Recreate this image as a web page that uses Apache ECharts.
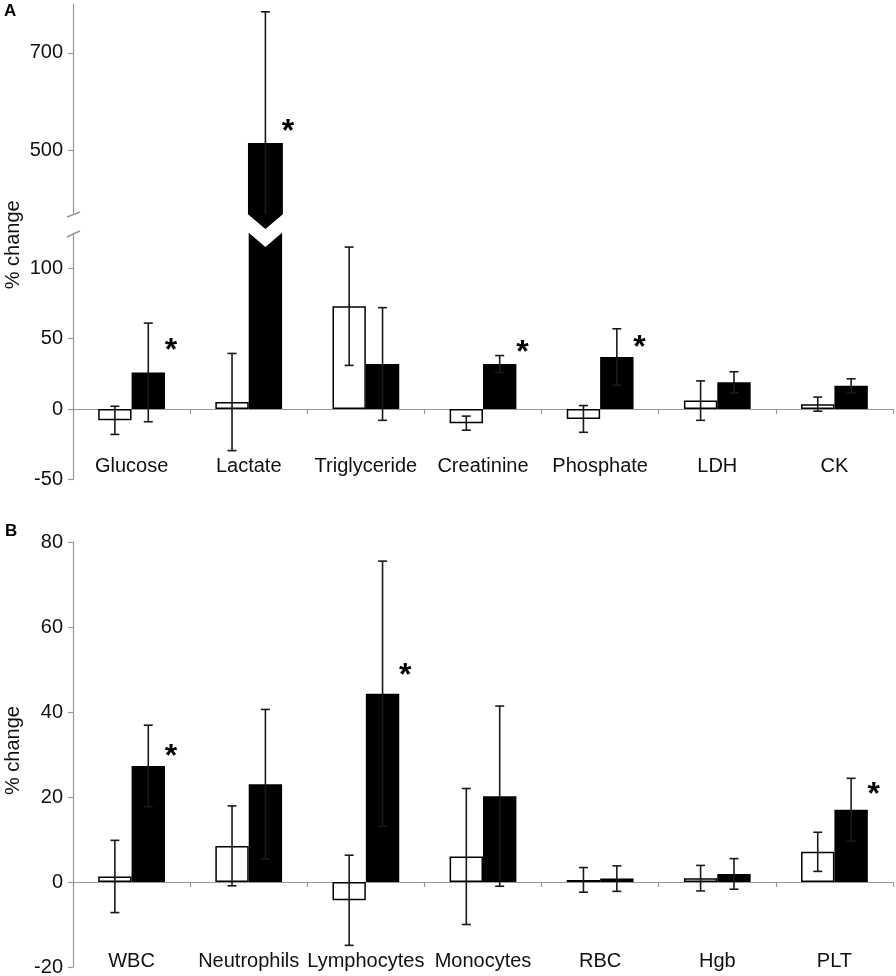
<!DOCTYPE html>
<html>
<head>
<meta charset="utf-8">
<script src="https://cdn.jsdelivr.net/npm/echarts@6/dist/echarts.min.js"></script>
<style>
html, body { margin: 0; background: #fff; }
#chart { width: 896px; height: 976px; }
</style>
</head>
<body>
<div id="chart"></div>
<script>
// panel A: blood chemistry
var catsA = ["Glucose", "Lactate", "Triglyceride", "Creatinine", "Phosphate", "LDH", "CK"];
var controlA = [-8, 5, 73, -10, -7, 6, 3.5];
var controlErrA = [10, 34.5, 42, 5, 9.5, 14, 5];
var exerciseA = [26, 514, 32, 32, 37, 19, 16.5];
var exerciseErrA = [35, 270, 40, 6, 20, 7.5, 5];
var starA = [46, 552, null, 45, 48, null, null];

// panel B: blood counts
var catsB = ["WBC", "Neutrophils", "Lymphocytes", "Monocytes", "RBC", "Hgb", "PLT"];
var controlB = [1.3, 8.5, -4.3, 6, 0.5, 0.9, 7.1];
var controlErrB = [8.5, 9.4, 10.6, 16, 2.9, 3, 4.6];
var exerciseB = [27.3, 23, 44.3, 20.2, 0.8, 1.9, 17];
var exerciseErrB = [9.6, 17.6, 31.2, 21.2, 3, 3.6, 7.4];
var starB = [31, null, 50, null, null, null, 22];

var ticksAUpper = [500, 700];
var ticksALower = [-50, 0, 50, 100];
var ticksB = [-20, 0, 20, 40, 60, 80];

var rangeAUpper = [370, 800];
var rangeALower = [-50, 125];
var rangeB = [-20, 80];

var FONT = '"Liberation Sans", Arial, sans-serif';
var AXIS_GRAY = "#999";
var GAP = 0.43;
var GRID_LEFT = 73;

function barW(api) {
    return api.size([1, 0])[0] * (1 - GAP) / 2;
}

function errorSeries(grid, vals, errs, side, range) {
    return {
        type: "custom",
        xAxisIndex: grid,
        yAxisIndex: grid,
        z: 5,
        silent: true,
        data: vals.map(function (v, i) { return [i, v, errs[i]]; }),
        renderItem: function (params, api) {
            var i = api.value(0), v = api.value(1), e = api.value(2);
            var top = Math.min(v + e, range[1]);
            var bot = Math.max(v - e, range[0]);
            if (top <= bot) return;
            var w = barW(api);
            var cx = api.coord([i, 0])[0] + side * w / 2;
            var yt = api.coord([i, top])[1];
            var yb = api.coord([i, bot])[1];
            var st = { stroke: "#1a1a1a", lineWidth: 1.6 };
            var kids = [{ type: "line", shape: { x1: cx, y1: yt, x2: cx, y2: yb }, style: st }];
            if (v + e <= range[1]) {
                kids.push({ type: "line", shape: { x1: cx - 4.5, y1: yt, x2: cx + 4.5, y2: yt }, style: st });
            }
            if (v - e >= range[0]) {
                kids.push({ type: "line", shape: { x1: cx - 4.5, y1: yb, x2: cx + 4.5, y2: yb }, style: st });
            }
            return { type: "group", children: kids };
        }
    };
}

function starSeries(grid, stars, range) {
    var data = [];
    stars.forEach(function (s, i) {
        if (s != null && s >= range[0] && s <= range[1]) data.push([i, s]);
    });
    return {
        type: "custom",
        xAxisIndex: grid,
        yAxisIndex: grid,
        z: 6,
        silent: true,
        data: data,
        renderItem: function (params, api) {
            var p = api.coord([api.value(0), api.value(1)]);
            var w = barW(api);
            return {
                type: "text",
                x: p[0] + w + 6,
                y: p[1] + 7,
                style: {
                    text: "*",
                    font: "bold 32px " + FONT,
                    fill: "#000",
                    align: "center",
                    verticalAlign: "middle"
                }
            };
        }
    };
}

function barPair(grid, ctrl, exer) {
    var common = {
        type: "bar",
        xAxisIndex: grid,
        yAxisIndex: grid,
        barGap: "0%",
        barCategoryGap: (GAP * 100) + "%",
        clip: true,
        silent: true
    };
    return [
        Object.assign({ data: ctrl, itemStyle: { color: "#fff", borderColor: "#000", borderWidth: 1.5 } }, common),
        Object.assign({ data: exer, itemStyle: { color: "#000", borderColor: "#000", borderWidth: 1.5 } }, common)
    ];
}

function yAxisCfg(grid, range, ticks) {
    return {
        type: "value",
        gridIndex: grid,
        min: range[0],
        max: range[1],
        axisLine: { show: true, lineStyle: { color: AXIS_GRAY, width: 1.2 } },
        axisTick: { show: true, length: 5, customValues: ticks, lineStyle: { color: AXIS_GRAY, width: 1.2 } },
        axisLabel: { customValues: ticks, margin: 10, fontSize: 20, fontFamily: FONT, color: "#111" },
        splitLine: { show: false }
    };
}

function xAxisCfg(grid, cats, margin, show) {
    return {
        type: "category",
        gridIndex: grid,
        data: cats,
        show: show,
        axisLine: { show: true, onZero: true, lineStyle: { color: AXIS_GRAY, width: 1.2 } },
        axisTick: { show: true, length: 5, lineStyle: { color: AXIS_GRAY, width: 1.2 } },
        axisLabel: { margin: margin, fontSize: 20, fontFamily: FONT, color: "#111", interval: 0 }
    };
}

var chart = echarts.init(document.getElementById("chart"), null, { renderer: "canvas" });

var series = [];
// upper part of panel A: only bars that reach past the break, drawn with a pointed bottom
series.push({
    type: "custom",
    xAxisIndex: 0,
    yAxisIndex: 0,
    silent: true,
    data: exerciseA.map(function (v, i) { return [i, v]; }).filter(function (d) { return d[1] > rangeAUpper[0]; }),
    renderItem: function (params, api) {
        var i = api.value(0);
        var w = barW(api);
        var left = api.coord([i, 0])[0];
        var yTop = api.coord([i, api.value(1)])[1];
        var yBot = api.coord([i, rangeAUpper[0]])[1];
        return {
            type: "polygon",
            shape: { points: [[left, yTop], [left + w, yTop], [left + w, yBot], [left + w / 2, yBot + 14], [left, yBot]] },
            style: { fill: "#000", stroke: "#000", lineWidth: 1.5 }
        };
    }
});
series = series.concat(barPair(1, controlA, exerciseA));
// notch on the clipped bar in the lower part of panel A
series.push({
    type: "custom",
    xAxisIndex: 1,
    yAxisIndex: 1,
    z: 4,
    silent: true,
    data: exerciseA.map(function (v, i) { return [i, v]; }).filter(function (d) { return d[1] > rangeALower[1]; }),
    renderItem: function (params, api) {
        var i = api.value(0);
        var w = barW(api);
        var left = api.coord([i, 0])[0];
        var yTop = api.coord([i, rangeALower[1]])[1];
        return {
            type: "polygon",
            shape: { points: [[left - 2, yTop - 2], [left + w + 2, yTop - 2], [left + w / 2, yTop + 14]] },
            style: { fill: "#fff" }
        };
    }
});
series.push(errorSeries(0, exerciseA, exerciseErrA, 1, rangeAUpper));
series.push(errorSeries(1, controlA, controlErrA, -1, rangeALower));
series.push(errorSeries(1, exerciseA, exerciseErrA, 1, rangeALower));
series.push(starSeries(0, starA, rangeAUpper));
series.push(starSeries(1, starA, rangeALower));

series = series.concat(barPair(2, controlB, exerciseB));
series.push(errorSeries(2, controlB, controlErrB, -1, rangeB));
series.push(errorSeries(2, exerciseB, exerciseErrB, 1, rangeB));
series.push(starSeries(2, starB, rangeB));

chart.setOption({
    animation: false,
    backgroundColor: "#fff",
    title: [
        { text: "A", left: 4, top: 3, padding: 0, textStyle: { fontSize: 17, fontWeight: "bold", fontFamily: FONT, color: "#000" } },
        { text: "B", left: 5, top: 523, padding: 0, textStyle: { fontSize: 17, fontWeight: "bold", fontFamily: FONT, color: "#000" } }
    ],
    grid: [
        { left: GRID_LEFT, right: 3, top: 4, height: 210, outerBoundsMode: "none" },
        { left: GRID_LEFT, right: 3, top: 233, height: 246.5, outerBoundsMode: "none" },
        { left: GRID_LEFT, right: 3, top: 542, height: 425, outerBoundsMode: "none" }
    ],
    xAxis: [
        xAxisCfg(0, catsA, 0, false),
        // labels are laid out from the bottom edge of the grid, so pull them up
        xAxisCfg(1, catsA, -23, true),
        xAxisCfg(2, catsB, -16, true)
    ],
    yAxis: [
        yAxisCfg(0, rangeAUpper, ticksAUpper),
        yAxisCfg(1, rangeALower, ticksALower),
        yAxisCfg(2, rangeB, ticksB)
    ],
    series: series
});

// axis break marks and the y-axis titles
var yBreakTop = chart.convertToPixel({ yAxisIndex: 0 }, rangeAUpper[0]);
var yBreakBot = chart.convertToPixel({ yAxisIndex: 1 }, rangeALower[1]);
var yMidA = (chart.convertToPixel({ yAxisIndex: 0 }, rangeAUpper[1]) + chart.convertToPixel({ yAxisIndex: 1 }, rangeALower[0])) / 2;
var yMidB = (chart.convertToPixel({ yAxisIndex: 2 }, rangeB[0]) + chart.convertToPixel({ yAxisIndex: 2 }, rangeB[1])) / 2;
var slash = { stroke: AXIS_GRAY, lineWidth: 1.4 };
var titleStyle = { text: "% change", font: "20px " + FONT, fill: "#111", align: "center", verticalAlign: "middle" };

chart.setOption({
    graphic: [
        { type: "line", shape: { x1: GRID_LEFT - 6, y1: yBreakTop + 3, x2: GRID_LEFT + 7, y2: yBreakTop - 2 }, style: slash },
        { type: "line", shape: { x1: GRID_LEFT - 6, y1: yBreakBot + 4, x2: GRID_LEFT + 7, y2: yBreakBot - 2 }, style: slash },
        { type: "text", x: 13, y: yMidA + 3, rotation: Math.PI / 2, style: titleStyle },
        { type: "text", x: 13, y: yMidB - 4, rotation: Math.PI / 2, style: titleStyle }
    ]
});
</script>
</body>
</html>
